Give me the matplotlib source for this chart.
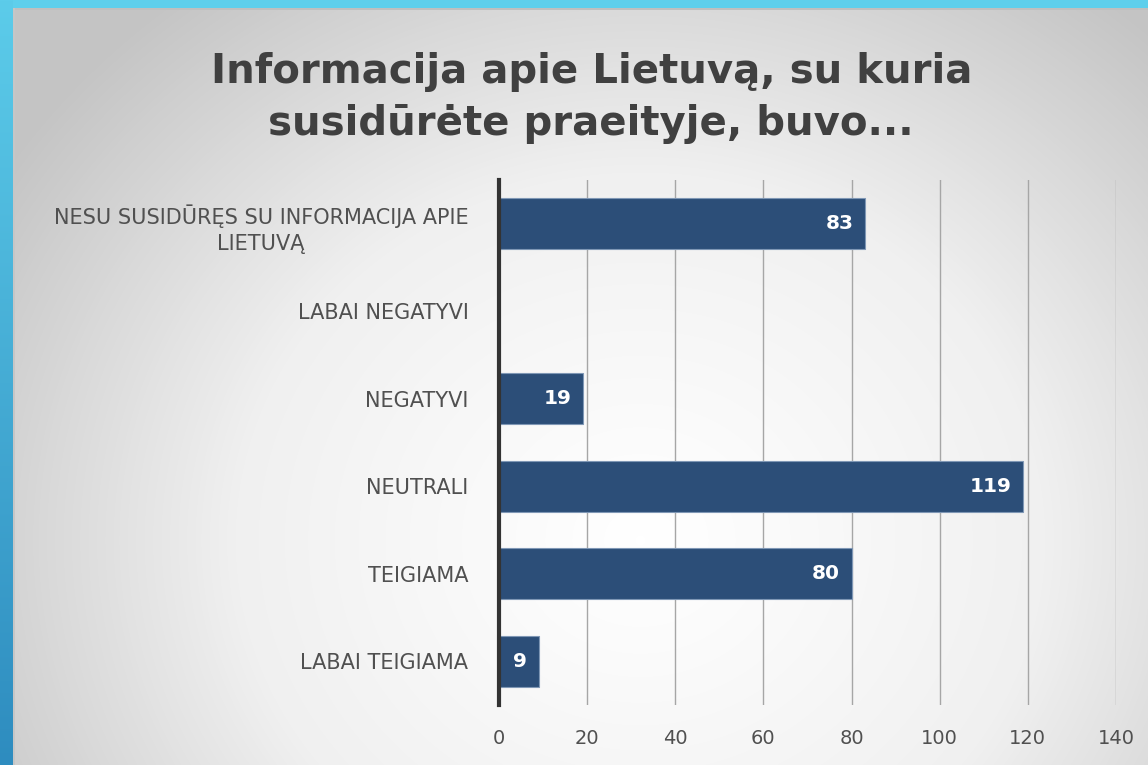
import numpy as np
import matplotlib.pyplot as plt
from matplotlib.colors import LinearSegmentedColormap

# Data (top to bottom as in the slide)
categories = ['NESU SUSIDŪRĘS SU INFORMACIJA APIE\nLIETUVĄ', 'LABAI NEGATYVI', 'NEGATYVI',
              'NEUTRALI', 'TEIGIAMA', 'LABAI TEIGIAMA']
values = [83, 0, 19, 119, 80, 9]
xticks = [0, 20, 40, 60, 80, 100, 120, 140]
title = 'Informacija apie Lietuvą, su kuria\nsusidūrėte praeityje, buvo...'

W, H = 1148, 765
fig = plt.figure(figsize=(W / 100, H / 100), dpi=100)

# slide background: radial grey gradient + blue frame
bg = fig.add_axes([0, 0, 1, 1])
yy, xx = np.mgrid[0:H, 0:W]
r = np.sqrt((xx - 640) ** 2 + ((yy - 540) * 1.1) ** 2) / 760
r = np.clip(r, 0, 1)
grey = LinearSegmentedColormap.from_list('g', ['#ffffff', '#f0f0f0', '#c4c4c4'])
img = grey(r ** 1.1)
img[:8, :, :3] = np.array([0x5e, 0xcf, 0xec]) / 255
t = np.linspace(0, 1, H)[:, None]
left = (1 - t) * np.array([0x5c, 0xcc, 0xea]) / 255 + t * np.array([0x2e, 0x8c, 0xbf]) / 255
img[:, :13, :3] = left[:, None, :]
img[8:10, 13:, :3] = 0.75
img[8:, 13:15, :3] = 0.78
bg.imshow(img, aspect='auto', extent=[0, W, H, 0])
bg.axis('off')

fig.text(0.515, 0.872, title, ha='center', va='center', fontsize=29, fontweight='bold',
         color='#404040', family='DejaVu Sans', linespacing=1.4)

ax = fig.add_axes([499 / W, 1 - 705 / H, 617 / W, 525 / H])
ax.patch.set_alpha(0)
y = np.arange(len(categories))
ax.barh(y, values, height=0.58, color='#2c4e78', edgecolor='#7f97b5', linewidth=0.8, zorder=3)
for yi, v in zip(y, values):
    if v > 0:
        ax.text(v - 2.6, yi, str(v), ha='right', va='center', color='white', fontsize=14.5,
                fontweight='bold', family='DejaVu Sans', zorder=4)

ax.set_xlim(0, 140)
ax.set_ylim(len(categories) - 0.5, -0.5)
ax.set_xticks(xticks)
ax.set_xticklabels([str(v) for v in xticks], fontsize=14, color='#505050', family='DejaVu Sans')
ax.set_yticks(y)
ax.set_yticklabels(categories, fontsize=15, color='#505050', family='DejaVu Sans',
                   multialignment='center', linespacing=1.4)
ax.tick_params(length=0)
ax.tick_params(axis='y', pad=22)
ax.tick_params(axis='x', pad=17)
ax.grid(axis='x', color='#a6a6a6', linewidth=1, zorder=0)
for s in ['top', 'right', 'bottom']:
    ax.spines[s].set_visible(False)
ax.spines['left'].set_color('#333333')
ax.spines['left'].set_linewidth(3)
ax.spines['left'].set_zorder(5)

fig.savefig('out.png', dpi=100)
